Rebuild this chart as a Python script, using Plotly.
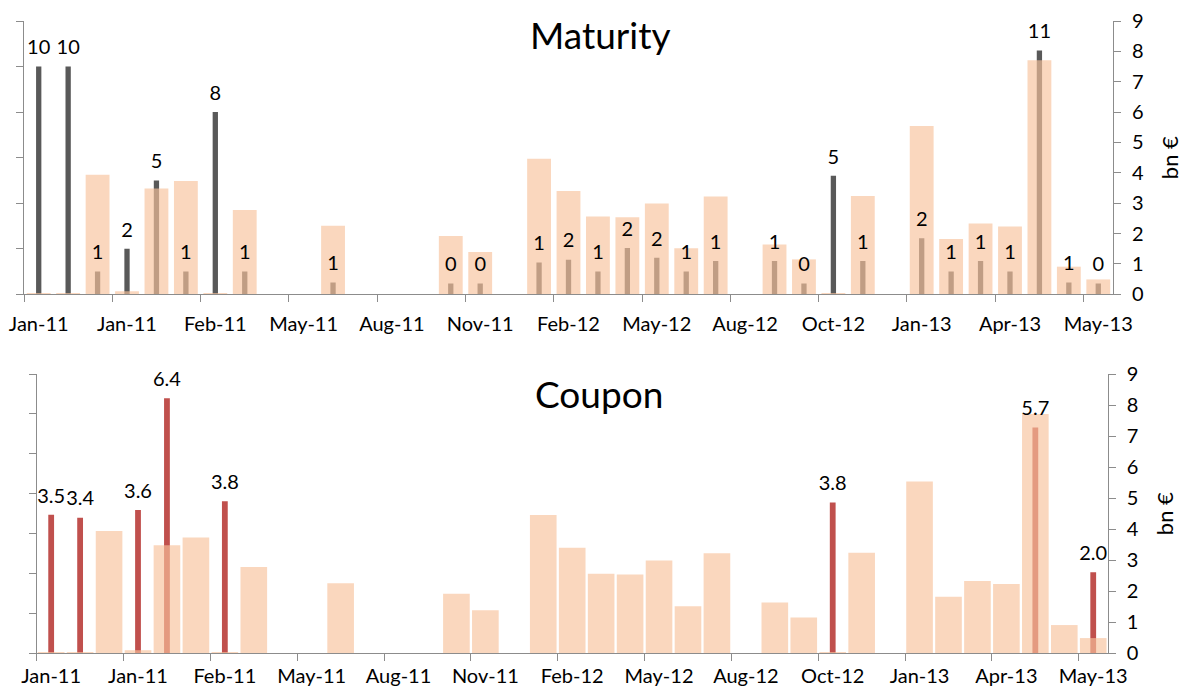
import math
import plotly.graph_objects as go

# ---------------- data ----------------
tick_labels = ["Jan-11", "Jan-11", "Feb-11", "May-11", "Aug-11", "Nov-11", "Feb-12",
               "May-12", "Aug-12", "Oct-12", "Jan-13", "Apr-13", "May-13"]
n_issues = 37
label_every = 3

# issue volume, bn EUR (right axis, both panels)
volume_bn = [0.04, 0.04, 3.94, 0.10, 3.48, 3.73, 0.04, 2.78, None, None,
             2.26, None, None, None, 1.92, 1.39, None, 4.46, 3.40, 2.56,
             2.54, 2.99, 1.52, 3.22, None, 1.64, 1.15, 0.04, 3.24, None,
             5.54, 1.82, 2.33, 2.23, 7.71, 0.91, 0.49]

# maturity, years (left hidden axis, top panel)
maturity_yrs = [10.0, 10.0, 1.0, 2.0, 5.0, 1.0, 8.0, 1.0, None, None,
                0.52, None, None, None, 0.47, 0.47, None, 1.4, 1.52, 1.0,
                2.03, 1.6, 1.0, 1.46, None, 1.46, 0.47, 5.2, 1.46, None,
                2.46, 1.0, 1.46, 1.0, 10.7, 0.52, 0.47]

# coupon, % (left hidden axis, bottom panel)
coupon_pct = [3.47, 3.40, None, 3.59, 6.39, None, 3.81, None, None, None,
              None, None, None, None, None, None, None, None, None, None,
              None, None, None, None, None, None, None, 3.78, None, None,
              None, None, None, None, 5.66, None, 2.03]

# ---------------- styling ----------------
FONT = "Lato"
ORANGE = "rgb(248,194,155)"
GRAY = "rgb(89,89,89)"
RED = "rgb(192,80,77)"
AXIS = "#8c8c8c"
W, H = 1175, 680   # page body has an 8px margin
OFF = 8

x = list(range(n_issues))
tickvals = list(range(0, n_issues, label_every))
boundaries = [v - 0.5 for v in tickvals]


def px_x(p):
    return (p - OFF) / W


def px_y(p):
    return 1 - (p - OFF) / H


def mat_text(v):
    return None if v is None else str(int(math.floor(v + 0.5)))


def cpn_text(v):
    return None if v is None else f"{math.floor(v * 10 + 0.5) / 10:.1f}"


def label_trace(vals, texts, xa, ya):
    return go.Scatter(x=x, y=vals, mode="markers+text", text=texts,
                      marker=dict(size=10, color="rgba(0,0,0,0)"),
                      textposition="top center", textfont=dict(family=FONT, size=20, color="black"),
                      xaxis=xa, yaxis=ya, showlegend=False, cliponaxis=False, hoverinfo="skip")


fig = go.Figure()

# top panel
fig.add_trace(go.Bar(x=x, y=maturity_yrs, width=0.18, marker=dict(color=GRAY, line_width=0),
                     xaxis="x", yaxis="y", showlegend=False, hoverinfo="skip"))
fig.add_trace(go.Bar(x=x, y=volume_bn, width=0.81, marker=dict(color=ORANGE, line_width=0),
                     opacity=0.65, xaxis="x", yaxis="y2", showlegend=False))
fig.add_trace(label_trace(maturity_yrs, [mat_text(v) for v in maturity_yrs], "x", "y3"))

# bottom panel
fig.add_trace(go.Bar(x=x, y=coupon_pct, width=0.2, marker=dict(color=RED, line_width=0),
                     xaxis="x2", yaxis="y4", showlegend=False, hoverinfo="skip"))
fig.add_trace(go.Bar(x=x, y=volume_bn, width=0.92, marker=dict(color=ORANGE, line_width=0),
                     opacity=0.65, xaxis="x2", yaxis="y5", showlegend=False))
fig.add_trace(label_trace(coupon_pct, [cpn_text(v) for v in coupon_pct], "x2", "y6"))


def xax(domain, anchor, standoff):
    return dict(domain=domain, anchor=anchor, range=[-0.5, n_issues - 0.5], automargin=False,
                tickmode="array", tickvals=tickvals, ticktext=tick_labels, ticks="",
                ticklabelstandoff=standoff, ticklabeloverflow="allow",
                minor=dict(tickmode="array", tickvals=boundaries, ticks="outside",
                           ticklen=7, tickcolor=AXIS, tickwidth=1, showgrid=False),
                showline=True, linecolor=AXIS, linewidth=1, showgrid=False, zeroline=False,
                tickfont=dict(family=FONT, size=20, color="black"))


def yleft(domain, anchor, top, step):
    return dict(domain=domain, anchor=anchor, range=[0, top], dtick=step, tick0=0, automargin=False,
                showticklabels=False, ticks="outside", ticklen=7, tickcolor=AXIS,
                showline=True, linecolor=AXIS, linewidth=1, showgrid=False, zeroline=False)


def yright(over, anchor):
    return dict(overlaying=over, anchor=anchor, side="right", range=[0, 9], dtick=1, tick0=0,
                automargin=False, ticklabelstandoff=7, ticklabeloverflow="allow",
                ticks="outside", ticklen=7, tickcolor=AXIS, showline=True, linecolor=AXIS,
                linewidth=1, showgrid=False, zeroline=False,
                tickfont=dict(family=FONT, size=20, color="black"),
                title=dict(text="bn €", font=dict(family=FONT, size=22, color="black"), standoff=19))


fig.update_layout(
    width=W, height=H,
    margin=dict(l=0, r=0, t=0, b=0, autoexpand=False),
    paper_bgcolor="white", plot_bgcolor="rgba(0,0,0,0)",
    barmode="overlay",
    font=dict(family=FONT, size=20, color="black"),
    xaxis=xax([px_x(24), px_x(1113)], "y", 12),
    yaxis=yleft([px_y(294.3), px_y(21)], "x", 12, 2),
    yaxis2=yright("y", "x"),
    yaxis3=dict(overlaying="y", anchor="x", range=[0, 12], visible=False),
    xaxis2=xax([px_x(36.7), px_x(1107.7)], "y4", 5),
    yaxis4=yleft([px_y(653.3), px_y(374)], "x2", 7, 1),
    yaxis5=yright("y4", "x2"),
    yaxis6=dict(overlaying="y4", anchor="x2", range=[0, 7], visible=False),
    annotations=[
        dict(text="Maturity", x=px_x(600), y=px_y(35), xref="paper", yref="paper",
             xanchor="center", yanchor="middle", showarrow=False,
             font=dict(family=FONT, size=37, color="black")),
        dict(text="Coupon", x=px_x(599), y=px_y(393), xref="paper", yref="paper",
             xanchor="center", yanchor="middle", showarrow=False,
             font=dict(family=FONT, size=37, color="black")),
    ],
)

fig.write_html("out.html")
